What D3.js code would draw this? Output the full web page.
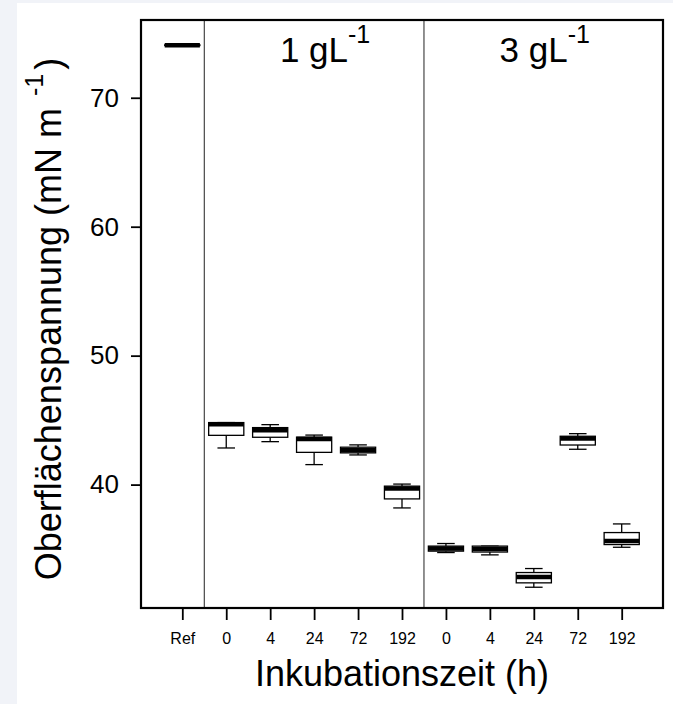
<!DOCTYPE html>
<html>
<head>
<meta charset="utf-8">
<script src="https://cdn.jsdelivr.net/npm/d3@7"></script>
<style>
  body { margin: 0; background: #f1f3f8; }
  text { font-family: "Liberation Sans", Arial, sans-serif; fill: #000; }
</style>
</head>
<body>
<div id="visualisationContainer"></div>
<script>
// Kategorien (x-Achse) und Gruppen
var tickLabels = ["Ref", "0", "4", "24", "72", "192", "0", "4", "24", "72", "192"];
var groupLabels = ["1 gL", "3 gL"];
var groupCenters = [4.25, 9.25];
var separators = [1.5, 6.5];
var yTicks = [40, 50, 60, 70];

// Boxplot-Statistiken
var whiskerLow  = [74.05, 42.84, 43.33, 41.55, 42.30, 38.19, 34.73, 34.55, 32.04, 42.74, 35.14];
var quart1      = [74.05, 43.82, 43.67, 42.50, 42.46, 38.89, 34.84, 34.77, 32.38, 43.07, 35.35];
var medians     = [74.07, 44.68, 44.22, 43.53, 42.67, 39.70, 35.04, 35.00, 32.84, 43.57, 35.62];
var quart3      = [74.10, 44.81, 44.42, 43.68, 42.90, 39.88, 35.23, 35.23, 33.18, 43.75, 36.28];
var whiskerHigh = [74.10, 44.81, 44.65, 43.84, 43.08, 40.04, 35.43, 35.23, 33.49, 43.95, 36.95];

var data = tickLabels.map(function(l, i) {
    return {pos: i + 1, label: l, lo: whiskerLow[i], q1: quart1[i], med: medians[i], q3: quart3[i], hi: whiskerHigh[i]};
});

var W = 673, H = 704;
var margin = {top: 20, right: 10, bottom: 96, left: 141};

var svg = d3.select("#visualisationContainer")
            .append("svg")
            .attr("width", W)
            .attr("height", H)
            .style("display", "block");

// weisse Flaeche
svg.append("rect")
    .attr("x", 17).attr("y", 3)
    .attr("width", W - 17).attr("height", H - 3)
    .attr("fill", "#fff");

var x = d3.scaleLinear()
    .domain([0.06, 11.94])
    .range([margin.left, W - margin.right]);

var y = d3.scaleLinear()
    .domain([30.43, 76.03])
    .range([H - margin.bottom, margin.top]);

var boxW = 0.8;

// Trennlinien
svg.selectAll(".sep")
    .data(separators)
    .enter().append("line")
    .attr("x1", d => x(d)).attr("x2", d => x(d))
    .attr("y1", y.range()[1]).attr("y2", y.range()[0])
    .attr("stroke", "#222")
    .attr("stroke-width", 1);

var g = svg.selectAll(".box")
    .data(data)
    .enter().append("g");

// Whisker
g.append("line")
    .attr("x1", d => x(d.pos)).attr("x2", d => x(d.pos))
    .attr("y1", d => y(d.q3)).attr("y2", d => y(d.hi))
    .attr("stroke", "#000").attr("stroke-width", 1.3);
g.append("line")
    .attr("x1", d => x(d.pos)).attr("x2", d => x(d.pos))
    .attr("y1", d => y(d.q1)).attr("y2", d => y(d.lo))
    .attr("stroke", "#000").attr("stroke-width", 1.3);
// Staples
g.append("line")
    .attr("x1", d => x(d.pos - boxW / 4)).attr("x2", d => x(d.pos + boxW / 4))
    .attr("y1", d => y(d.hi)).attr("y2", d => y(d.hi))
    .attr("stroke", "#000").attr("stroke-width", 1.3);
g.append("line")
    .attr("x1", d => x(d.pos - boxW / 4)).attr("x2", d => x(d.pos + boxW / 4))
    .attr("y1", d => y(d.lo)).attr("y2", d => y(d.lo))
    .attr("stroke", "#000").attr("stroke-width", 1.3);
// Box
g.append("rect")
    .attr("x", d => x(d.pos - boxW / 2))
    .attr("width", d => x(d.pos + boxW / 2) - x(d.pos - boxW / 2))
    .attr("y", d => y(d.q3))
    .attr("height", d => y(d.q1) - y(d.q3))
    .attr("fill", "#fff")
    .attr("stroke", "#000").attr("stroke-width", 1.3);
// Median
g.append("line")
    .attr("x1", d => x(d.pos - boxW / 2)).attr("x2", d => x(d.pos + boxW / 2))
    .attr("y1", d => y(d.med)).attr("y2", d => y(d.med))
    .attr("stroke", "#000").attr("stroke-width", 4.5);

// Achsen
var yAxis = svg.append("g")
    .attr("transform", `translate(${margin.left}, 0)`)
    .call(d3.axisLeft(y).tickValues(yTicks).tickSize(10).tickPadding(12).tickFormat(d3.format("d")));
yAxis.select(".domain").remove();
yAxis.selectAll("line").attr("stroke", "#000").attr("stroke-width", 1.8);
yAxis.selectAll("text").attr("font-size", 26).attr("font-family", "Liberation Sans, Arial, sans-serif").attr("fill", "#000");

var xAxis = svg.append("g")
    .attr("transform", `translate(0, ${H - margin.bottom})`)
    .call(d3.axisBottom(x).tickValues(data.map(d => d.pos)).tickSize(12).tickPadding(13)
        .tickFormat((d, i) => tickLabels[i]));
xAxis.select(".domain").remove();
xAxis.selectAll("line").attr("stroke", "#000").attr("stroke-width", 1.8);
xAxis.selectAll("text").attr("font-size", 16).attr("font-family", "Liberation Sans, Arial, sans-serif").attr("fill", "#000");

// Rahmen
svg.append("rect")
    .attr("x", x.range()[0]).attr("y", y.range()[1])
    .attr("width", x.range()[1] - x.range()[0])
    .attr("height", y.range()[0] - y.range()[1])
    .attr("fill", "none")
    .attr("stroke", "#000")
    .attr("stroke-width", 2.2);

// Gruppenbeschriftung
var gl = svg.selectAll(".glab")
    .data(groupLabels)
    .enter().append("text")
    .attr("x", (d, i) => x(groupCenters[i]))
    .attr("y", 62)
    .attr("text-anchor", "middle")
    .attr("font-size", 35);
gl.append("tspan").text(d => d);
gl.append("tspan").attr("dy", -19).attr("font-size", 25).text("-1");

// Achsentitel
svg.append("text")
    .attr("x", (x.range()[0] + x.range()[1]) / 2)
    .attr("y", 686)
    .attr("text-anchor", "middle")
    .attr("font-size", 36)
    .text("Inkubationszeit (h)");

var yl = svg.append("text")
    .attr("transform", `translate(61, ${(y.range()[0] + y.range()[1]) / 2 + 5}) rotate(-90)`)
    .attr("text-anchor", "middle")
    .attr("font-size", 36);
yl.append("tspan").text("Oberflächenspannung (mN m");
yl.append("tspan").attr("dx", 12).attr("dy", -18).attr("font-size", 25).text("-1");
yl.append("tspan").attr("dx", 4).attr("dy", 18).text(")");
</script>
</body>
</html>
